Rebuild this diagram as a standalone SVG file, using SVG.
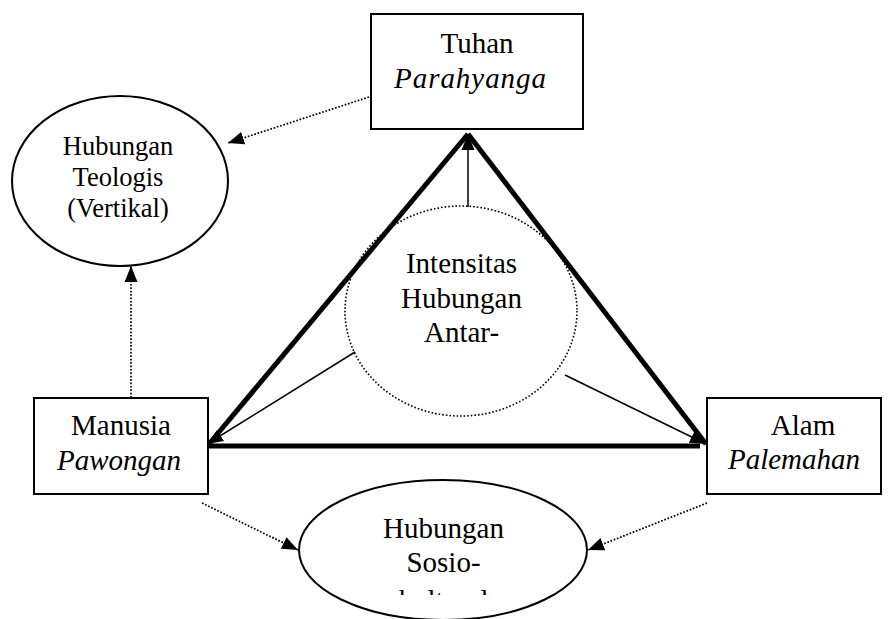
<svg xmlns="http://www.w3.org/2000/svg" width="889" height="619" viewBox="0 0 889 619">
<defs>
<style>
.box{fill:#fff;stroke:#000;stroke-width:2}
.ell{fill:#fff;stroke:#000;stroke-width:2}
.dotc{fill:none;stroke:#000;stroke-width:1.6;stroke-dasharray:1.6 2}
.t{font-family:"Liberation Serif","Times New Roman",serif;font-size:29px;fill:#000;text-anchor:middle}
.s{font-size:26.5px}
.i{font-style:italic}
.thick{stroke:#000;stroke-width:5;fill:none}
.thin{stroke:#000;stroke-width:1.5;fill:none;marker-end:url(#ah)}
.dot{stroke:#000;stroke-width:1.7;stroke-dasharray:1.7 1.7;fill:none;marker-end:url(#ah)}
</style>
<marker id="ah" markerUnits="userSpaceOnUse" markerWidth="17" markerHeight="14" refX="16" refY="6.5" orient="auto" viewBox="0 0 17 13">
<path d="M0,0 L16,6.5 L0,13 z" fill="#000"/>
</marker>
<clipPath id="clipS"><rect x="280" y="470" width="330" height="125"/></clipPath>
</defs>

<g id="connectors">
<line class="thick" x1="468" y1="134" x2="209" y2="444"/>
<line class="thick" x1="468" y1="134" x2="706" y2="444"/>
<line class="thick" x1="209" y1="446" x2="700" y2="446"/>
<line class="thin" x1="468" y1="207" x2="468" y2="134"/>
<line class="thin" x1="355" y1="352" x2="207" y2="444"/>
<line class="thin" x1="565" y1="375" x2="706" y2="444"/>
<line class="dot" x1="369" y1="97" x2="228" y2="143"/>
<line class="dot" x1="131" y1="408" x2="131" y2="266"/>
<line class="dot" x1="202" y1="503" x2="298" y2="550"/>
<line class="dot" x1="707" y1="503" x2="588" y2="550"/>
</g>

<g id="tuhan">
<rect class="box" x="371" y="14" width="212" height="115"/>
<text class="t" x="477" y="53">Tuhan</text>
<text class="t i" x="470" y="88" textLength="152" lengthAdjust="spacing">Parahyanga</text>
</g>

<g id="teologis">
<ellipse class="ell" cx="120" cy="181" rx="108" ry="85"/>
<text class="t s" x="118" y="155">Hubungan</text>
<text class="t s" x="118" y="186">Teologis</text>
<text class="t s" x="118" y="217">(Vertikal)</text>
</g>

<g id="intensitas">
<ellipse class="dotc" cx="461" cy="311" rx="116" ry="105"/>
<text class="t" x="461.5" y="273">Intensitas</text>
<text class="t" x="461.5" y="308">Hubungan</text>
<text class="t" x="461.5" y="342">Antar-</text>
</g>

<g id="manusia">
<rect class="box" x="34" y="398" width="174" height="96"/>
<text class="t" x="121" y="435">Manusia</text>
<text class="t i" x="119" y="470">Pawongan</text>
</g>

<g id="alam">
<rect class="box" x="707" y="398" width="174" height="96"/>
<text class="t" x="803" y="435">Alam</text>
<text class="t i" x="794" y="469">Palemahan</text>
</g>

<g id="sosio">
<ellipse class="ell" cx="443" cy="550" rx="144" ry="70"/>
<text class="t" x="443.5" y="538">Hubungan</text>
<text class="t" x="443.5" y="572">Sosio-</text>
<text class="t" x="443.5" y="610" clip-path="url(#clipS)">kultural</text>
</g>
</svg>
